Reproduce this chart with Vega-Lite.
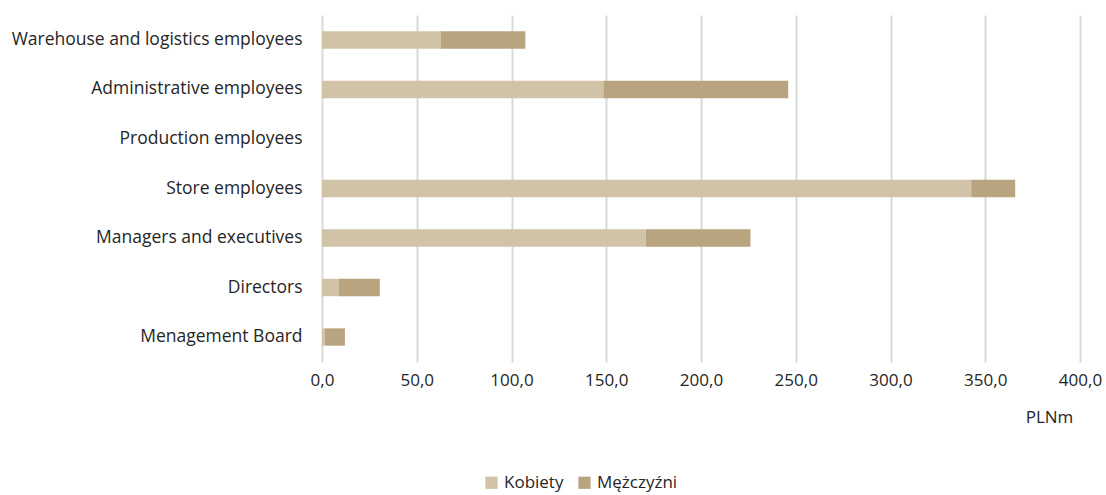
{
  "$schema": "https://vega.github.io/schema/vega-lite/v6.json",
  "width": 758,
  "height": 347,
  "autosize": {"type": "none"},
  "padding": {"left": 322, "top": 15, "right": 26, "bottom": 133},
  "background": "white",
  "config": {
    "view": {"stroke": null},
    "font": "Open Sans",
    "axis": {"labelFont": "Open Sans", "titleFont": "Open Sans"},
    "legend": {"labelFont": "Open Sans"}
  },
  "data": {
    "values": [
      {"category": "Warehouse and logistics employees", "gender": "Kobiety", "value": 62.5},
      {"category": "Warehouse and logistics employees", "gender": "Mężczyźni", "value": 44.8},
      {"category": "Administrative employees", "gender": "Kobiety", "value": 148.5},
      {"category": "Administrative employees", "gender": "Mężczyźni", "value": 97.5},
      {"category": "Production employees", "gender": "Kobiety", "value": 0},
      {"category": "Production employees", "gender": "Mężczyźni", "value": 0},
      {"category": "Store employees", "gender": "Kobiety", "value": 342.6},
      {"category": "Store employees", "gender": "Mężczyźni", "value": 23.2},
      {"category": "Managers and executives", "gender": "Kobiety", "value": 170.8},
      {"category": "Managers and executives", "gender": "Mężczyźni", "value": 55.3},
      {"category": "Directors", "gender": "Kobiety", "value": 8.9},
      {"category": "Directors", "gender": "Mężczyźni", "value": 21.6},
      {"category": "Menagement Board", "gender": "Kobiety", "value": 1.6},
      {"category": "Menagement Board", "gender": "Mężczyźni", "value": 10.5}
    ]
  },
  "mark": {"type": "bar"},
  "encoding": {
    "y": {
      "field": "category",
      "type": "nominal",
      "sort": ["Warehouse and logistics employees", "Administrative employees", "Production employees", "Store employees", "Managers and executives", "Directors", "Menagement Board"],
      "scale": {"paddingInner": 0.65, "paddingOuter": 0.33},
      "axis": {
        "title": null,
        "domain": false,
        "ticks": false,
        "labelPadding": 20,
        "labelFontSize": 17.5,
        "labelColor": "#262626",
        "labelLimit": 400
      }
    },
    "x": {
      "field": "value",
      "type": "quantitative",
      "stack": "zero",
      "scale": {"domain": [0, 400], "nice": false},
      "axis": {
        "values": [0, 50, 100, 150, 200, 250, 300, 350, 400],
        "labelExpr": "replace(format(datum.value, '.1f'), '.', ',')",
        "labelFlush": false,
        "domain": false,
        "ticks": false,
        "grid": true,
        "gridColor": "#d9d9d9",
        "gridWidth": 2,
        "labelPadding": 10,
        "labelFontSize": 17,
        "labelColor": "#262626",
        "title": "PLNm",
        "titleFontSize": 17,
        "titleFontWeight": "normal",
        "titleColor": "#262626",
        "titleX": 727,
        "titleY": 55,
        "titleAlign": "center",
        "titleBaseline": "middle"
      }
    },
    "color": {
      "field": "gender",
      "type": "nominal",
      "scale": {"domain": ["Kobiety", "Mężczyźni"], "range": ["#D1C3A7", "#B8A47E"]},
      "legend": {
        "title": null,
        "orient": "none",
        "direction": "horizontal",
        "legendX": 161,
        "legendY": 459,
        "symbolType": "square",
        "symbolSize": 150,
        "symbolStrokeWidth": 0,
        "labelFontSize": 17,
        "labelColor": "#262626",
        "columnPadding": 12,
        "labelOffset": 4
      }
    },
    "order": {"field": "gender", "sort": "ascending"}
  }
}
